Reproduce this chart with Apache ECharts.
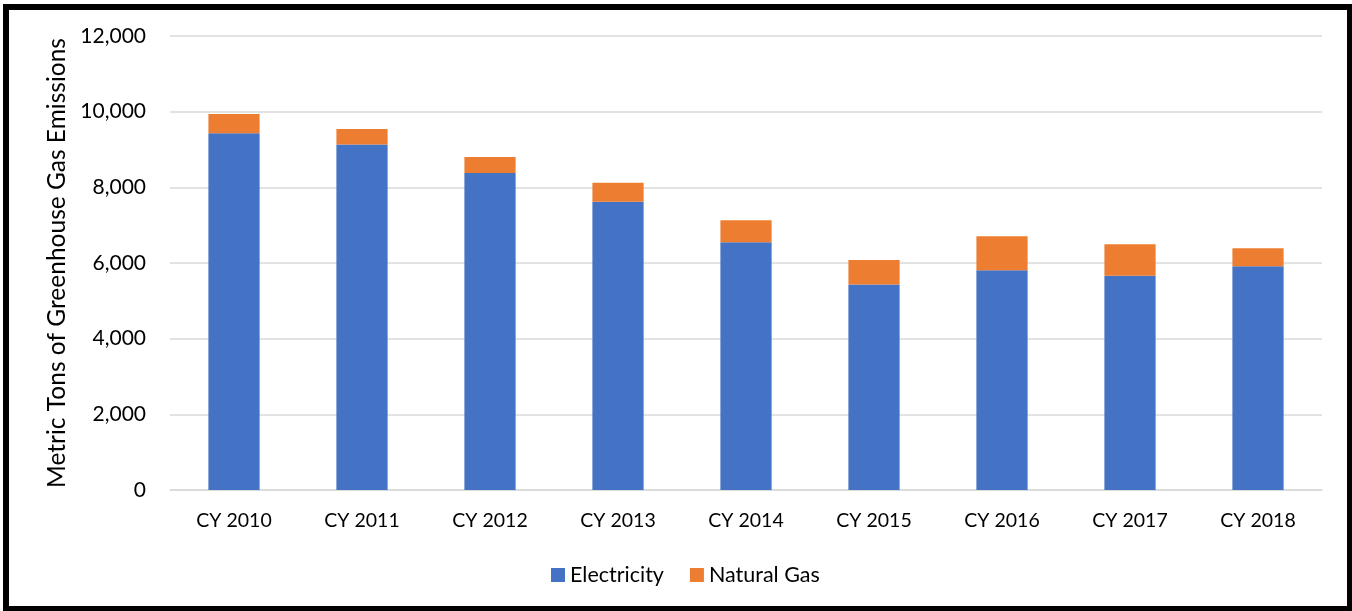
<!DOCTYPE html>
<html>
<head>
<meta charset="utf-8">
<script src="https://cdn.jsdelivr.net/npm/echarts@6/dist/echarts.min.js"></script>
<style>
html,body{margin:0;padding:0;background:#fff;}
#chart{width:1352px;height:611px;}
</style>
</head>
<body>
<div id="chart"></div>
<script>
const categories = ['CY 2010','CY 2011','CY 2012','CY 2013','CY 2014','CY 2015','CY 2016','CY 2017','CY 2018'];
const electricity = [9430, 9130, 8380, 7620, 6550, 5430, 5810, 5665, 5915];
const naturalGas = [510, 415, 425, 500, 580, 650, 895, 830, 475];
const yTicks = [0, 2000, 4000, 6000, 8000, 10000, 12000];

const FONT = 'Lato, "Open Sans", sans-serif';
const chart = echarts.init(document.getElementById('chart'));
chart.setOption({
  animation: false,
  textStyle: { fontFamily: FONT },
  graphic: [{
    type: 'rect',
    shape: { x: 6, y: 7, width: 1344, height: 602 },
    style: { fill: 'none', stroke: '#000', lineWidth: 6 },
    z: 100
  }],
  grid: { left: 170, right: 30, top: 36, bottom: 121 },
  legend: {
    left: 546, top: 559,
    itemWidth: 14, itemHeight: 14, itemGap: 26,
    icon: 'rect',
    textStyle: { fontSize: 21.5, color: '#000', fontFamily: FONT },
    data: ['Electricity', 'Natural Gas']
  },
  xAxis: {
    type: 'category',
    data: categories,
    axisLine: { lineStyle: { color: '#D9D9D9', width: 1.5 } },
    axisTick: { show: false },
    axisLabel: { fontSize: 19.5, color: '#000', margin: 21, fontFamily: FONT }
  },
  yAxis: {
    type: 'value',
    min: yTicks[0], max: yTicks[yTicks.length - 1], interval: 2000,
    name: 'Metric Tons of Greenhouse Gas Emissions',
    nameLocation: 'middle', nameGap: 97,
    nameTextStyle: { fontSize: 24.5, color: '#000', fontFamily: FONT },
    axisLine: { show: false },
    axisTick: { show: false },
    splitLine: { lineStyle: { color: '#D9D9D9', width: 1.5 } },
    axisLabel: {
      fontSize: 21, color: '#000', margin: 24, fontFamily: FONT,
      formatter: v => v.toLocaleString('en-US')
    }
  },
  series: [
    {
      name: 'Electricity', type: 'bar', stack: 'total',
      data: electricity, barWidth: '40%',
      itemStyle: { color: '#4472C4' }
    },
    {
      name: 'Natural Gas', type: 'bar', stack: 'total',
      data: naturalGas, barWidth: '40%',
      itemStyle: { color: '#ED7D31' }
    }
  ]
});
</script>
</body>
</html>
